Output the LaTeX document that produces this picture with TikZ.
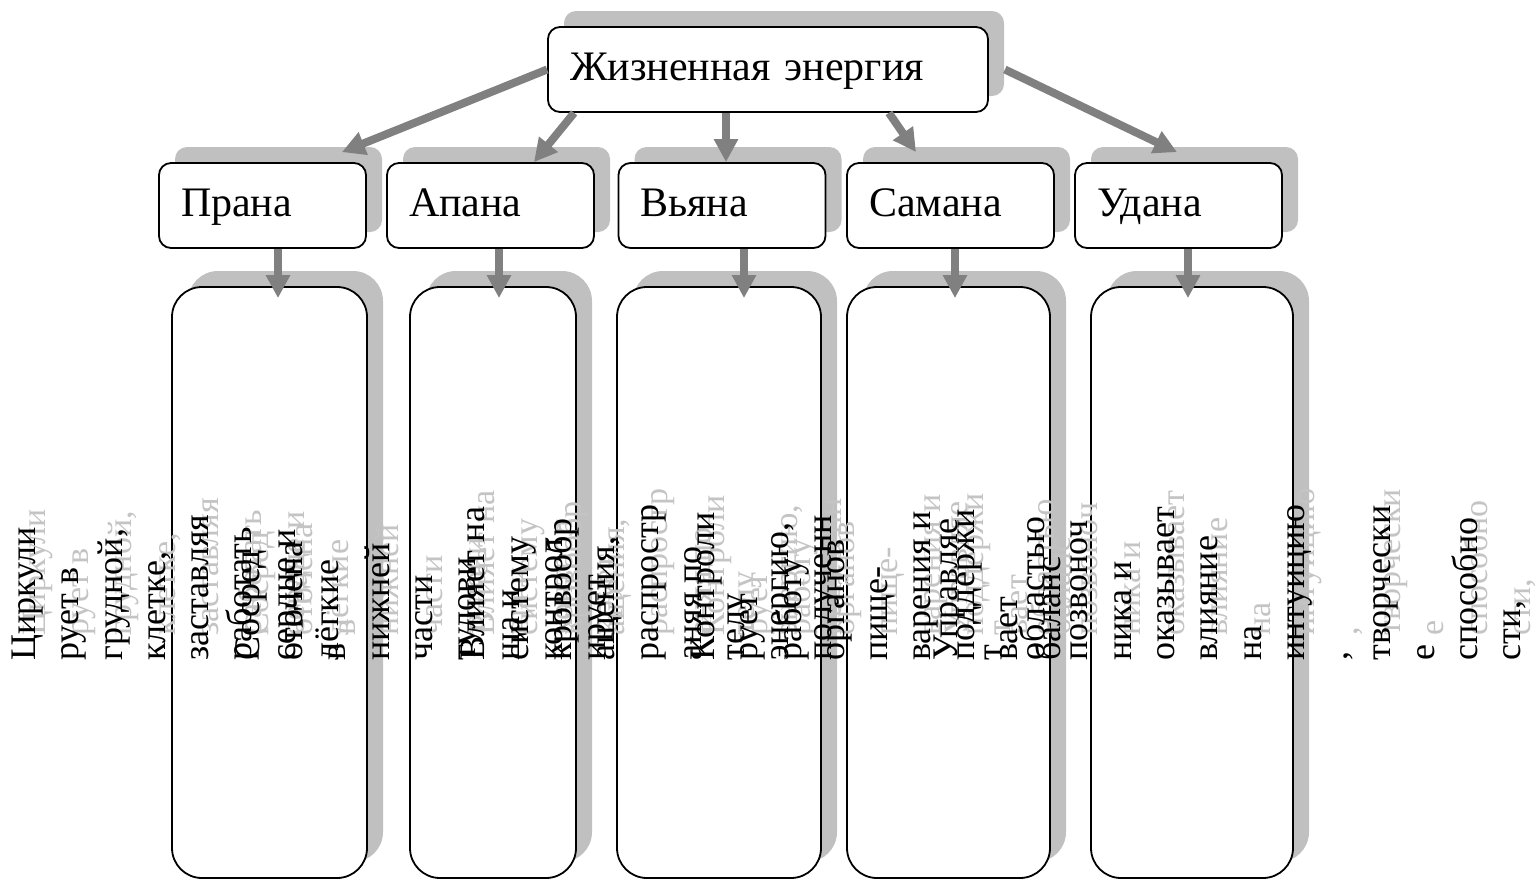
\documentclass[tikz,border=0pt]{standalone}
\usepackage{fontspec}
\setmainfont{Liberation Serif}
\usepackage{tikz}
\usetikzlibrary{arrows.meta,shadows,calc}

\definecolor{shadowgray}{RGB}{192,192,192}
\definecolor{arrowgray}{RGB}{128,128,128}
\definecolor{ghostgray}{RGB}{196,196,196}

\tikzset{
  shadowbox/.style={copy shadow={shadow xshift=8pt,shadow yshift=8pt,fill=shadowgray,draw=none}},
  headbox/.style={shadowbox,draw,line width=0.9pt,fill=white,rounded corners=6pt,
    minimum height=42.5pt,inner xsep=11pt,align=left,text width=#1,
    text height=15pt,text depth=4pt,font=\fontsize{21}{25}\selectfont},
  descbox/.style={shadowbox,draw,line width=0.9pt,fill=white,rounded corners=15pt,
    minimum width=#1,minimum height=295.5pt},
  flow/.style={color=arrowgray,line width=4pt,-{Triangle[width=11.5pt,length=11.5pt]}},
  bodytext/.style={rotate=90,anchor=north west,align=left,inner sep=0pt,
    font=\fontsize{18}{21.65}\selectfont},
  ghosttext/.style={bodytext,text=ghostgray,font=\fontsize{17}{21.65}\selectfont}
}

\newcommand\pranatext{Циркули\\рует в\\грудной,\\клетке,\\заставляя\\работать\\сердце и\\лёгкие}
\newcommand\apanatext{Сосред\\оточена\\в\\нижней\\части\\тулови\\ща и\\контрол\\ирует}
\newcommand\vyanatext{Влияет на\\систему\\кровообр\\ащения,\\распростр\\аняя по\\телу\\энергию,\\полученн}
\newcommand\samanatext{Контроли\\рует\\работу\\органов\\пище-\\варения и\\поддержи\\вает\\баланс}
\newcommand\udanatext{Управляе\\т\\областью\\позвоноч\\ника и\\оказывает\\влияние\\на\\интуицию\\,\\творчески\\е\\способно\\сти,}

\begin{document}
\begin{tikzpicture}[x=0.5pt,y=-0.5pt]
%%Location
\useasboundingbox (0,0) rectangle (1537,879);

%%Top
\node[headbox=198pt] (energy) at (768,69.5) {Жизненная энергия};

%%Winds
\node[headbox=81.5pt] (prana) at (262.5,205.5) {Прана};
\node[headbox=81.5pt] (apana) at (490.5,205.5) {Апана};
\node[headbox=81.5pt] (vyana) at (722,205.5) {Вьяна};
\node[headbox=81.5pt] (samana) at (950.5,205.5) {Самана};
\node[headbox=81.5pt] (udana) at (1178.5,205.5) {Удана};

%%Descriptions
\node[descbox=97.5pt] (dprana) at (269.5,582.5) {};
\node[descbox=83pt] (dapana) at (493,582.5) {};
\node[descbox=102pt] (dvyana) at (719,582.5) {};
\node[descbox=101.5pt] (dsamana) at (948.5,582.5) {};
\node[descbox=101pt] (dudana) at (1192,582.5) {};

%%Arrows from the top
\draw[flow] (energy.west) -- ([xshift=-12.5pt,yshift=5pt]prana.north east);
\draw[flow] ([xshift=13.5pt]energy.south west) -- ([xshift=21.75pt]apana.north);
\draw[flow] ([xshift=-21pt]energy.south) -- ([xshift=2pt]vyana.north);
\draw[flow] ([xshift=-50pt]energy.south east) -- ([xshift=-17.25pt,yshift=5pt]samana.north);
\draw[flow] ([xshift=8pt]energy.east) -- ([xshift=-0.75pt,yshift=5pt]udana.north);

%%Arrows down
\draw[flow] ([xshift=7.75pt]prana.south) -- ([xshift=4.25pt,yshift=-6pt]dprana.north);
\draw[flow] ([xshift=4.25pt]apana.south) -- ([xshift=3pt,yshift=-6pt]dapana.north);
\draw[flow] ([xshift=11pt]vyana.south) -- ([xshift=12.5pt,yshift=-6pt]dvyana.north);
\draw[flow] ([xshift=2.25pt]samana.south) -- ([xshift=3.25pt,yshift=-6pt]dsamana.north);
\draw[flow] ([xshift=4.75pt]udana.south) -- ([xshift=-2pt,yshift=-6pt]dudana.north);

%%Texts, grey copy first
\node[ghosttext] (gprana) at ($(dprana.north)+(-247,350)$) {\pranatext};
\node[ghosttext] (gapana) at ($(dapana.north)+(-247,350)$) {\apanatext};
\node[ghosttext] (gvyana) at ($(dvyana.north)+(-247,350)$) {\vyanatext};
\node[ghosttext] (gsamana) at ($(dsamana.north)+(-247,350)$) {\samanatext};
\node[ghosttext] (gudana) at ($(dudana.north)+(-247,350)$) {\udanatext};

\node[bodytext] (tprana) at ($(dprana.north)+(-258,375)$) {\pranatext};
\node[bodytext] (tapana) at ($(dapana.north)+(-258,375)$) {\apanatext};
\node[bodytext] (tvyana) at ($(dvyana.north)+(-258,375)$) {\vyanatext};
\node[bodytext] (tsamana) at ($(dsamana.north)+(-258,375)$) {\samanatext};
\node[bodytext] (tudana) at ($(dudana.north)+(-258,375)$) {\udanatext};

\end{tikzpicture}
\end{document}
